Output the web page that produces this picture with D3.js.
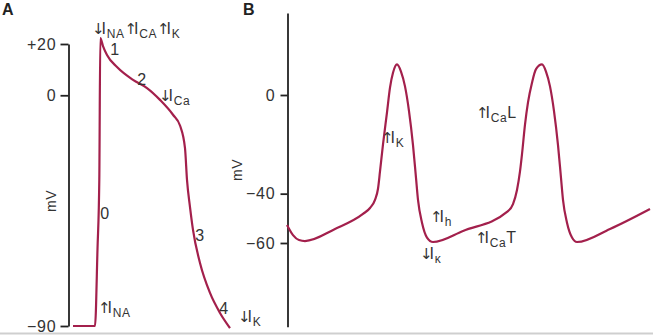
<!DOCTYPE html>
<html>
<head>
<meta charset="utf-8">
<script src="https://cdn.jsdelivr.net/npm/d3@7"></script>
<style>
  body { margin: 0; background: #fff; }
  svg { display: block; font-family: "Liberation Sans", Arial, sans-serif; }
  .axis path, .axis line { stroke: #222; stroke-width: 1.8; }
  .axis text { fill: #333; font-size: 16px; letter-spacing: 0.8px; }
  .lbl { fill: #333; font-size: 16px; letter-spacing: 0.6px; }
  .arr { font-family: "DejaVu Sans"; font-size: 15px; letter-spacing: -3px; }
</style>
</head>
<body>
<svg width="653" height="336"></svg>
<script>
// panel A: ventricular action potential (time ms, mV)
var ventT = [0, 44, 49, 52.6, 54.6, 60, 68, 88, 120, 148, 174, 200, 214, 224, 228, 234, 240, 254, 274, 294, 314];
var ventV = [-90, -90, -60, -33, 22.3, 19.2, 15.7, 11, 6, 2.8, -1.8, -7.6, -11.8, -20.6, -33, -43.6, -52.5, -65.4, -77.1, -84.9, -90.8];
var ventTicks = [20, 0, -90];

// panel B: pacemaker potential (time ms, mV)
var paceT = [0, 12, 24, 36, 96, 152, 166, 176, 182, 186, 192, 200, 206, 212, 220, 228, 236, 244, 252, 258, 262, 270, 280, 292, 352, 440, 452, 460, 466, 470, 476, 482, 490, 498, 510, 518, 526, 534, 542, 548, 552, 560, 570, 580, 646, 726];
var paceV = [-52.7, -56.8, -58.8, -59.2, -54.3, -48.2, -45.8, -42.5, -38, -31, -20, -7, 3, 9, 12.4, 9.5, 3.5, -6.5, -20.3, -33.6, -42.5, -51.8, -57.8, -59.6, -55.1, -47.4, -44.2, -38.5, -31, -24, -12, -3, 5, 10.5, 12.4, 9.5, 3.5, -6.5, -20.3, -33.6, -42.5, -51.8, -57.8, -59.6, -54.3, -46.2];
var paceTicks = [0, -40, -60];

// annotations: [t, mV, anchor, parts]  "_x" = subscript
var ventNotes = [
  [38, 23.9, "start", ["↓", "I", "_NA", "↑", "I", "_CA", "↑", "I", "_K"]],
  [84, 15.7, "middle", ["1"]],
  [138, 4, "middle", ["2"]],
  [172, -2.2, "start", ["↓", "I", "_Ca"]],
  [64, -48.3, "middle", ["0"]],
  [254, -56.8, "middle", ["3"]],
  [50, -84.9, "start", ["↑", "I", "_NA"]],
  [302, -85.2, "middle", ["4"]],
  [330, -88.4, "start", ["↓", "I", "_K"]]
];
var paceNotes = [
  [188, -19.5, "start", ["↑", "I", "_K"]],
  [378, -9.3, "start", ["↑", "I", "_Ca", "L"]],
  [286, -51.5, "start", ["↑", "I", "_h"]],
  [266, -66.5, "start", ["↓", "I", "_κ"]],
  [376, -60, "start", ["↑", "I", "_Ca", "T"]]
];

var svg = d3.select("svg");
var red = "#a3204c";

svg.append("line").attr("x1", 0).attr("x2", 653).attr("y1", 333.5).attr("y2", 333.5)
  .attr("stroke", "#cfcfcf").attr("stroke-width", 2);

function extend(s, lo, hi) {
  return s.copy().domain([lo, hi]).range([s(lo), s(hi)]);
}
function fmt(d) { return d > 0 ? "+" + d : d < 0 ? "−" + Math.abs(d) : "0"; }

function note(g, x, y, list) {
  list.forEach(function(n) {
    var t = g.append("text").attr("class", "lbl")
      .attr("x", x(n[0])).attr("y", y(n[1])).attr("text-anchor", n[2]);
    var sub = false;
    n[3].forEach(function(p) {
      var s = p[0] === "_";
      var sp = t.append("tspan").text(s ? p.slice(1) : p);
      if (s && !sub) sp.attr("dy", 4);
      if (!s && sub) sp.attr("dy", -4);
      if (p === "↑" || p === "↓") sp.attr("class", "arr");
      if (s) sp.style("font-size", "12px");
      sub = s;
    });
  });
}

var line = d3.line().curve(d3.curveMonotoneX);

// ---- panel A
var xA = d3.scaleLinear().domain([0, 320]).range([73, 233]);
var yA = d3.scaleLinear().domain([-90, 20]).range([326, 44]);
var gA = svg.append("g");

gA.append("g").attr("class", "axis").attr("transform", "translate(68.5,0)")
  .call(d3.axisLeft(yA).tickValues(ventTicks).tickSize(8).tickSizeOuter(0).tickPadding(4).tickFormat(fmt))
  .call(function(g) { g.selectAll("text").attr("fill", "#333"); });

gA.append("path")
  .attr("d", line(ventT.map(function(t, i) { return [xA(t), yA(ventV[i])]; })))
  .attr("fill", "none").attr("stroke", red).attr("stroke-width", 2.2);

note(gA, xA, yA, ventNotes);

gA.append("text").attr("class", "lbl").attr("transform", "translate(56,201) rotate(-90)")
  .attr("text-anchor", "middle").style("font-size", "14px").text("mV");
gA.append("text").attr("x", 2).attr("y", 15).style("font-weight", "bold").style("font-size", "16px")
  .attr("fill", "#222").text("A");

// ---- panel B
var xB = d3.scaleLinear().domain([0, 730]).range([287, 652]);
var yB = d3.scaleLinear().domain([-60, 0]).range([243, 95]);
var gB = svg.append("g");

gB.append("g").attr("class", "axis").attr("transform", "translate(287.5,0)")
  .call(d3.axisLeft(extend(yB, -94, 33.2)).tickValues(paceTicks).tickSize(7).tickSizeOuter(0).tickPadding(5).tickFormat(fmt))
  .call(function(g) { g.selectAll("text").attr("fill", "#333"); });

gB.append("path")
  .attr("d", line(paceT.map(function(t, i) { return [xB(t), yB(paceV[i])]; })))
  .attr("fill", "none").attr("stroke", red).attr("stroke-width", 2.2);

note(gB, xB, yB, paceNotes);

gB.append("text").attr("class", "lbl").attr("transform", "translate(242,170) rotate(-90)")
  .attr("text-anchor", "middle").style("font-size", "14px").text("mV");
gB.append("text").attr("x", 243).attr("y", 15).style("font-weight", "bold").style("font-size", "16px")
  .attr("fill", "#222").text("B");
</script>
</body>
</html>
